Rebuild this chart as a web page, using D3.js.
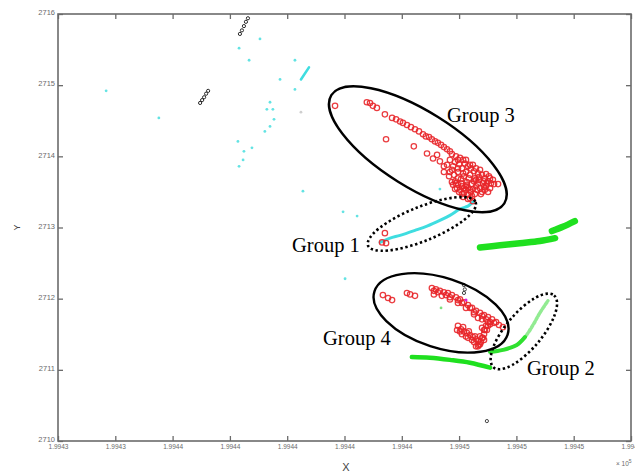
<!DOCTYPE html>
<html>
<head>
<meta charset="utf-8">
<script src="https://cdn.jsdelivr.net/npm/d3@7"></script>
<style>
  body { margin: 0; background: #fff; }
  svg { display: block; }
  .tick text { font-family: "Liberation Sans", Arial, sans-serif; fill: #6a6a6a; }
</style>
</head>
<body>
<div id="chart"></div>
<script>
// axis ticks
const xTicks = [199431, 199433, 199435, 199437, 199439, 199441, 199443, 199445, 199447, 199449, 199451];
const xTickLabels = ["1.9943", "1.9943", "1.9944", "1.9944", "1.9944", "1.9944", "1.9944", "1.9945", "1.9945", "1.9945", "1.9945"];
const yTicks = [2710, 2711, 2712, 2713, 2714, 2715, 2716];

// scattered cyan detections
const cyanDots = [
  [199432.68, 2714.92], [199434.52, 2714.54], [199437.32, 2715.52], [199438.05, 2715.65],
  [199437.67, 2715.35], [199439.27, 2715.35], [199438.75, 2715.08], [199439.27, 2714.94],
  [199438.40, 2714.76], [199438.29, 2714.66], [199438.50, 2714.66], [199438.54, 2714.52],
  [199438.40, 2714.42], [199438.22, 2714.35], [199437.28, 2714.21], [199437.49, 2714.07],
  [199437.77, 2714.12], [199437.46, 2713.95], [199437.32, 2713.86], [199439.55, 2713.51],
  [199440.95, 2713.22], [199441.44, 2713.16], [199444.33, 2713.54], [199441.02, 2712.28]
];
const grayDots = [[199439.48, 2714.62]];
const cyanSegment = [[199439.48, 2715.08], [199439.76, 2715.25]];

// small black circle chains
const blackChainA = [
  [199437.35, 2715.72], [199437.42, 2715.77], [199437.49, 2715.83], [199437.56, 2715.89], [199437.63, 2715.94]
];
const blackChainB = [
  [199435.96, 2714.75], [199436.03, 2714.79], [199436.10, 2714.83], [199436.17, 2714.88], [199436.24, 2714.92]
];

// group 1 track (cyan)
const group1Line = [
  [199442.24, 2712.79], [199442.59, 2712.85], [199442.94, 2712.89], [199443.46, 2712.96],
  [199443.88, 2713.02], [199444.33, 2713.10], [199444.68, 2713.17], [199445.03, 2713.26],
  [199445.31, 2713.30], [199445.48, 2713.36]
];
const group1Circles = [[199442.41, 2712.92], [199442.31, 2712.79], [199442.45, 2712.78]];

// group 3 (red circles)
const group3Circles = [
  [199440.67, 2714.71], [199441.78, 2714.76], [199441.89, 2714.75], [199441.99, 2714.71],
  [199442.13, 2714.68], [199442.41, 2714.59], [199442.66, 2714.54], [199442.80, 2714.52],
  [199442.94, 2714.49], [199443.04, 2714.47], [199443.18, 2714.44], [199443.32, 2714.41],
  [199443.46, 2714.38], [199443.60, 2714.35], [199443.74, 2714.31], [199443.84, 2714.28],
  [199443.95, 2714.27], [199444.05, 2714.24], [199444.16, 2714.21], [199444.26, 2714.19],
  [199444.37, 2714.16], [199444.47, 2714.13], [199444.58, 2714.10], [199444.68, 2714.07],
  [199442.45, 2714.24], [199443.42, 2714.14], [199443.88, 2714.04], [199444.09, 2713.97],
  [199444.47, 2713.86], [199444.23, 2714.02], [199444.33, 2713.93], [199446.36, 2713.61],
  [199444.75, 2714.03], [199444.89, 2714.00], [199445.03, 2713.98], [199445.14, 2713.95],
  [199444.86, 2713.92], [199445.00, 2713.89], [199445.20, 2713.90], [199445.31, 2713.86],
  [199445.10, 2713.83], [199445.41, 2713.83], [199445.52, 2713.79], [199445.24, 2713.78],
  [199445.66, 2713.76], [199445.38, 2713.74], [199445.80, 2713.74], [199445.55, 2713.69],
  [199445.90, 2713.69], [199445.69, 2713.67], [199446.01, 2713.65], [199445.83, 2713.62],
  [199446.11, 2713.62], [199444.96, 2713.78], [199444.75, 2713.81], [199444.65, 2713.72],
  [199445.07, 2713.68], [199444.86, 2713.65], [199445.27, 2713.64], [199445.45, 2713.61],
  [199445.59, 2713.58], [199445.73, 2713.55], [199445.94, 2713.58], [199446.08, 2713.55],
  [199446.18, 2713.67], [199445.90, 2713.53], [199445.10, 2713.58], [199444.93, 2713.55],
  [199445.24, 2713.53], [199445.41, 2713.50], [199445.55, 2713.47], [199445.38, 2713.41],
  [199445.48, 2713.37], [199445.31, 2713.46], [199444.79, 2713.60], [199444.89, 2713.62],
  [199445.03, 2713.53], [199445.17, 2713.48], [199445.31, 2713.55], [199444.68, 2713.95],
  [199444.58, 2713.88], [199444.79, 2713.86], [199444.47, 2713.78],
  [199444.96, 2713.95], [199445.24, 2713.95], [199445.38, 2713.88], [199445.59, 2713.83],
  [199445.73, 2713.81], [199445.94, 2713.75], [199446.08, 2713.69], [199446.22, 2713.61],
  [199446.01, 2713.50], [199445.76, 2713.47], [199445.66, 2713.62], [199445.17, 2713.72],
  [199444.96, 2713.69], [199444.75, 2713.64], [199444.86, 2713.54], [199445.10, 2713.47],
  [199445.31, 2713.40], [199445.24, 2713.58], [199445.48, 2713.54], [199445.59, 2713.67],
  [199445.87, 2713.57],
  [199444.68, 2713.78], [199444.82, 2713.74], [199444.96, 2713.60], [199445.07, 2713.62],
  [199445.17, 2713.55], [199445.27, 2713.60], [199445.38, 2713.53], [199445.00, 2713.50],
  [199445.14, 2713.43], [199445.45, 2713.44], [199445.62, 2713.53], [199445.80, 2713.50],
  [199445.97, 2713.62], [199446.04, 2713.72], [199445.87, 2713.65], [199445.52, 2713.65],
  [199445.34, 2713.69], [199445.14, 2713.76], [199444.96, 2713.83], [199445.48, 2713.88],
  [199445.69, 2713.71]
];

// group 4 (red circles)
const group4Circles = [
  [199444.05, 2712.15], [199444.19, 2712.13], [199444.33, 2712.11], [199444.47, 2712.09],
  [199444.61, 2712.08], [199444.75, 2712.05], [199444.89, 2712.02], [199445.03, 2711.99],
  [199445.17, 2711.95], [199445.31, 2711.91], [199445.45, 2711.87], [199445.59, 2711.83],
  [199445.73, 2711.80], [199445.87, 2711.77], [199446.01, 2711.74], [199446.15, 2711.71],
  [199446.29, 2711.67], [199446.39, 2711.63],
  [199446.01, 2711.67], [199445.94, 2711.62], [199445.90, 2711.56], [199445.87, 2711.50],
  [199445.83, 2711.45], [199445.76, 2711.39], [199445.69, 2711.35],
  [199444.96, 2711.62], [199445.07, 2711.57], [199445.17, 2711.54], [199445.27, 2711.52],
  [199445.38, 2711.49], [199445.48, 2711.46], [199445.59, 2711.43], [199445.66, 2711.40],
  [199442.34, 2712.05], [199442.52, 2712.01], [199442.66, 2711.98],
  [199443.18, 2712.08], [199443.29, 2712.06], [199443.46, 2712.04],
  [199446.53, 2711.60],
  [199444.12, 2712.11], [199444.54, 2712.05], [199444.96, 2711.98], [199445.38, 2711.87],
  [199445.80, 2711.76], [199446.22, 2711.66], [199445.03, 2711.54], [199445.24, 2711.47],
  [199445.45, 2711.42], [199445.97, 2711.56], [199445.87, 2711.42],
  [199444.26, 2712.09], [199444.68, 2712.02], [199445.10, 2711.94], [199445.52, 2711.81],
  [199445.94, 2711.71], [199446.08, 2711.64], [199445.80, 2711.59], [199445.73, 2711.47],
  [199445.14, 2711.60], [199445.34, 2711.54], [199445.55, 2711.47], [199445.66, 2711.33],
  [199444.12, 2712.06], [199444.40, 2712.04], [199444.68, 2711.99], [199444.96, 2711.94],
  [199445.24, 2711.87], [199445.52, 2711.78], [199445.80, 2711.71], [199446.08, 2711.67],
  [199445.66, 2711.73],
  [199444.93, 2711.56], [199445.10, 2711.50], [199445.31, 2711.45], [199445.52, 2711.39],
  [199445.73, 2711.36], [199445.59, 2711.33], [199446.01, 2711.62], [199445.87, 2711.56],
  [199445.80, 2711.45]
];

// green tracks
const greenUpperA = [
  [199445.73, 2712.72], [199446.43, 2712.75], [199447.12, 2712.78], [199447.82, 2712.81], [199448.35, 2712.85]
];
const greenUpperB = [[199448.24, 2712.95], [199448.62, 2713.01], [199449.04, 2713.09]];
const greenLower = [
  [199443.35, 2711.18], [199443.98, 2711.17], [199444.68, 2711.14], [199445.38, 2711.10], [199446.08, 2711.03]
];
// group 2 track
const group2Solid = [[199446.08, 2711.25], [199446.53, 2711.28], [199447.02, 2711.35], [199447.30, 2711.46]];
const group2Faint = [[199447.02, 2711.35], [199447.30, 2711.46], [199447.58, 2711.63], [199447.82, 2711.80], [199448.10, 2711.97]];

// odd marks
const blackMarks = [[199445.17, 2712.19], [199445.20, 2712.13], [199445.17, 2712.08], [199445.97, 2710.28]];
const magentaMarks = [[199445.24, 2711.98]];
const greenDots = [[199444.37, 2711.87]];

// annotations
const groupNames = ["Group 3", "Group 1", "Group 4", "Group 2"];
const groupLabelAt = [[199444.58, 2714.48], [199439.17, 2712.65], [199440.25, 2711.35], [199447.37, 2710.93]];
const groupCenters = [[199443.56, 2714.10], [199443.70, 2713.05], [199444.37, 2711.80], [199447.26, 2711.54]];

const W = 635, H = 475;
const margin = {top: 14, right: 4, bottom: 34, left: 58};

const svg = d3.select("#chart").append("svg")
    .attr("width", W)
    .attr("height", H);

const x = d3.scaleLinear()
    .domain([199431, 199451])
    .range([margin.left, W - margin.right]);
const y = d3.scaleLinear()
    .domain([2710, 2716])
    .range([H - margin.bottom, margin.top]);

const axisColor = "#6b6b6b";

// axes, MATLAB style: inward ticks on all four sides
const gx = svg.append("g")
    .attr("transform", "translate(0," + y(2710) + ")")
    .call(d3.axisBottom(x).tickValues(xTicks).tickFormat((d, i) => xTickLabels[i]).tickSize(-5).tickPadding(3));
gx.selectAll("text").style("font-size", "6.5px");

const gy = svg.append("g")
    .attr("transform", "translate(" + x(199431) + ",0)")
    .call(d3.axisLeft(y).tickValues(yTicks).tickFormat(d3.format("d")).tickSize(-5).tickPadding(3));
gy.selectAll("text").style("font-size", "7.5px").attr("dy", "0.1em");

svg.append("g")
    .attr("transform", "translate(0," + y(2716) + ")")
    .call(d3.axisTop(x).tickValues(xTicks).tickFormat("").tickSize(-5));
svg.append("g")
    .attr("transform", "translate(" + x(199451) + ",0)")
    .call(d3.axisRight(y).tickValues(yTicks).tickFormat("").tickSize(-5));

svg.selectAll(".domain").remove();
svg.selectAll(".tick line").attr("stroke", axisColor).attr("stroke-width", 1.3);

svg.append("rect")
    .attr("x", x(199431))
    .attr("y", y(2716))
    .attr("width", x(199451) - x(199431))
    .attr("height", y(2710) - y(2716))
    .attr("fill", "none")
    .attr("stroke", axisColor)
    .attr("stroke-width", 1.6);

// axis labels
svg.append("text")
    .attr("x", 346).attr("y", 471)
    .attr("text-anchor", "middle")
    .attr("font-family", "Liberation Sans, Arial, sans-serif")
    .attr("font-size", 11)
    .attr("fill", "#444")
    .text("X");
svg.append("text")
    .attr("transform", "translate(20," + y(2713) + ") rotate(-90)")
    .attr("text-anchor", "middle")
    .attr("font-family", "Liberation Sans, Arial, sans-serif")
    .attr("font-size", 9)
    .attr("fill", "#444")
    .text("Y");
const expo = svg.append("text")
    .attr("x", 616).attr("y", 466)
    .attr("font-family", "Liberation Sans, Arial, sans-serif")
    .attr("font-size", 6.5)
    .attr("fill", "#6a6a6a")
    .text("\u00d7 10");
expo.append("tspan").attr("dy", -3).attr("font-size", 5).text("5");

const line = d3.line().x(d => x(d[0])).y(d => y(d[1])).curve(d3.curveCatmullRom);
const plot = svg.append("g");

// scattered points
plot.selectAll(".cyan-dot").data(cyanDots).enter().append("circle")
    .attr("cx", d => x(d[0])).attr("cy", d => y(d[1])).attr("r", 1.4)
    .attr("fill", "#48dede").attr("opacity", 0.85);
plot.selectAll(".gray-dot").data(grayDots).enter().append("circle")
    .attr("cx", d => x(d[0])).attr("cy", d => y(d[1])).attr("r", 1.4)
    .attr("fill", "#cfcfcf");
plot.append("path").attr("d", line(cyanSegment))
    .attr("fill", "none").attr("stroke", "#3fdde0").attr("stroke-width", 2.6).attr("stroke-linecap", "round");

[blackChainA, blackChainB].forEach(chain => {
  plot.append("g").selectAll("circle").data(chain).enter().append("circle")
      .attr("cx", d => x(d[0])).attr("cy", d => y(d[1])).attr("r", 1.6)
      .attr("fill", "none").attr("stroke", "#2a2a2a").attr("stroke-width", 1);
});

// green tracks
[greenUpperA, greenUpperB].forEach(seg => {
  plot.append("path").attr("d", line(seg))
      .attr("fill", "none").attr("stroke", "#1fe01f").attr("stroke-width", 6.5).attr("stroke-linecap", "round");
});
plot.append("path").attr("d", line(greenLower))
    .attr("fill", "none").attr("stroke", "#1fe01f").attr("stroke-width", 4.5).attr("stroke-linecap", "round");
plot.append("path").attr("d", line(group2Faint))
    .attr("fill", "none").attr("stroke", "#7fe87f").attr("stroke-width", 3.5).attr("stroke-dasharray", "3 1.5")
    .attr("stroke-linecap", "round").attr("opacity", 0.85);
plot.append("path").attr("d", line(group2Solid))
    .attr("fill", "none").attr("stroke", "#2fe02f").attr("stroke-width", 4).attr("stroke-linecap", "round");

// group 1 cyan track
plot.append("path").attr("d", line(group1Line))
    .attr("fill", "none").attr("stroke", "#3fdde0").attr("stroke-width", 3).attr("stroke-linecap", "round");

// red circle groups
const red = "#e8262a";
[group1Circles, group3Circles, group4Circles].forEach(set => {
  plot.append("g").selectAll("circle").data(set).enter().append("circle")
      .attr("cx", d => x(d[0])).attr("cy", d => y(d[1])).attr("r", 2.7)
      .attr("fill", "none").attr("stroke", red).attr("stroke-width", 1.25).attr("opacity", 0.9);
});

plot.selectAll(".black-mark").data(blackMarks).enter().append("circle")
    .attr("cx", d => x(d[0])).attr("cy", d => y(d[1])).attr("r", 1.6)
    .attr("fill", "none").attr("stroke", "#444").attr("stroke-width", 1);
plot.selectAll(".magenta-mark").data(magentaMarks).enter().append("circle")
    .attr("cx", d => x(d[0])).attr("cy", d => y(d[1])).attr("r", 1.5)
    .attr("fill", "#e020e0");
plot.selectAll(".green-dot").data(greenDots).enter().append("circle")
    .attr("cx", d => x(d[0])).attr("cy", d => y(d[1])).attr("r", 1.4)
    .attr("fill", "#7fe07f");

// hand-drawn group outlines: [rx, ry, rotation, dotted]
const outlineShape = [[102, 38, 32, false], [58, 17, -22, true], [70, 35, 18, false], [47, 18, -50, true]];
groupCenters.forEach((c, i) => {
  const s = outlineShape[i];
  plot.append("ellipse")
      .attr("transform", "translate(" + x(c[0]) + "," + y(c[1]) + ") rotate(" + s[2] + ")")
      .attr("rx", s[0]).attr("ry", s[1])
      .attr("fill", "none")
      .attr("stroke", "#000")
      .attr("stroke-width", s[3] ? 2.6 : 2.4)
      .attr("stroke-dasharray", s[3] ? "2.4 2.6" : null);
});

plot.selectAll(".group-label").data(groupNames).enter().append("text")
    .attr("x", (d, i) => x(groupLabelAt[i][0]))
    .attr("y", (d, i) => y(groupLabelAt[i][1]))
    .attr("font-family", "Liberation Serif, Times New Roman, serif")
    .attr("font-size", 20.5)
    .attr("fill", "#000")
    .text(d => d);
</script>
</body>
</html>
